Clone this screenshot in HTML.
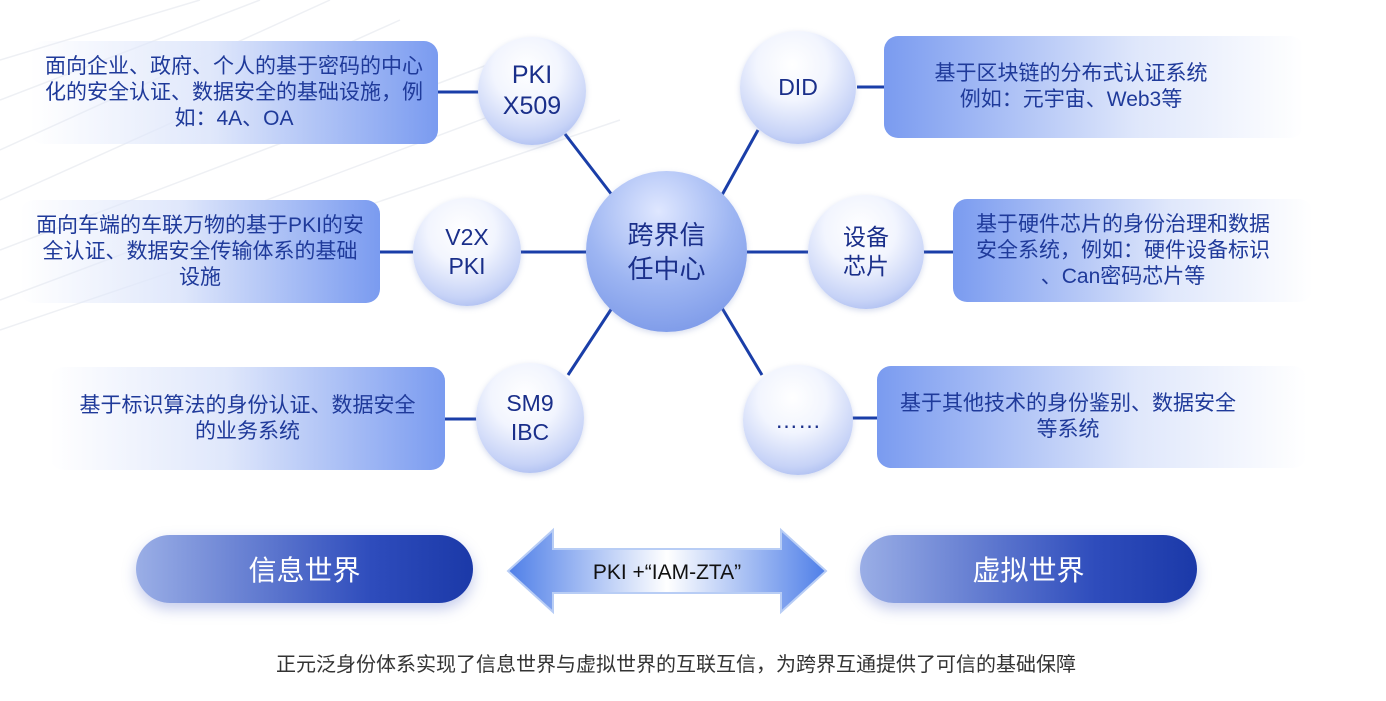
<!DOCTYPE html>
<html><head><meta charset="utf-8"><style>
body{margin:0;width:1386px;height:701px;background:#fff;position:relative;overflow:hidden;font-family:"Liberation Sans","Noto Sans CJK SC",sans-serif}
.box{position:absolute;border-radius:14px;color:#1f3a9a;font-size:21px;line-height:26px;text-align:center;display:flex;align-items:center;justify-content:center;box-sizing:border-box;white-space:nowrap}
.L{background:linear-gradient(to right,rgba(255,255,255,0) 0%,#dfe7fb 45%,#7a9bf0 100%)}
.R{background:linear-gradient(to right,#7a9bf0 0%,#dfe7fb 60%,rgba(255,255,255,0) 100%)}
.c{position:absolute;border-radius:50%;background:radial-gradient(circle at 45% 30%,#fff 0%,#f2f5fe 35%,#c7d3f7 70%,#8aa2e8 100%);color:#1a2f8a;font-size:23px;line-height:29px;text-align:center;display:flex;align-items:center;justify-content:center;box-shadow:0 2px 6px rgba(120,140,200,.3)}
.pill{position:absolute;border-radius:34px;background:linear-gradient(to right,#9aaee6,#2e4cbc 70%,#1b39a8);color:#fff;font-size:28px;display:flex;align-items:center;justify-content:center;box-shadow:0 6px 14px rgba(90,110,200,.35)}
</style></head><body>
<svg style="position:absolute;left:0;top:0" width="1386" height="701">
<g stroke="#eef0f4" stroke-width="1.5" fill="none">
<path d="M0 60 L200 0"/><path d="M0 100 L260 0"/><path d="M0 150 L330 0"/><path d="M0 200 L400 20"/><path d="M0 250 L500 60"/><path d="M0 300 L560 90"/><path d="M0 330 L620 120"/>
</g>
<g stroke="#1a3ea8" stroke-width="3">
<line x1="438" y1="92" x2="482" y2="92"/><line x1="380" y1="252" x2="419" y2="252"/><line x1="445" y1="419" x2="478" y2="419"/>
<line x1="857" y1="87" x2="884" y2="87"/><line x1="922" y1="252" x2="953" y2="252"/><line x1="852" y1="418" x2="877" y2="418"/>
<line x1="515" y1="252" x2="590" y2="252"/><line x1="745" y1="252" x2="810" y2="252"/>
<line x1="565" y1="134" x2="612" y2="195"/><line x1="568" y1="375" x2="612" y2="308"/>
<line x1="758" y1="130" x2="722" y2="195"/><line x1="762" y1="375" x2="722" y2="308"/>
</g>
<defs><linearGradient id="ag" x1="0" x2="1"><stop offset="0" stop-color="#4f7fe8"/><stop offset=".5" stop-color="#fff"/><stop offset="1" stop-color="#4f7fe8"/></linearGradient></defs>
<polygon points="508,571 553,530 553,549 781,549 781,530 826,571 781,612 781,593 553,593 553,612" fill="url(#ag)" stroke="#b8cdf5" stroke-width="2"/>
<text x="667" y="579" text-anchor="middle" font-size="21" fill="#111" font-family="Liberation Sans,sans-serif">PKI +“IAM-ZTA”</text>
</svg>
<div class="box L" style="left:30px;top:41px;width:408px;height:103px">面向企业、政府、个人的基于密码的中心<br>化的安全认证、数据安全的基础设施，例<br>如：4A、OA</div>
<div class="box L" style="left:20px;top:200px;width:360px;height:103px">面向车端的车联万物的基于PKI的安<br>全认证、数据安全传输体系的基础<br>设施</div>
<div class="box L" style="left:50px;top:367px;width:395px;height:103px">基于标识算法的身份认证、数据安全<br>的业务系统</div>
<div class="box R" style="left:884px;top:36px;width:420px;height:102px;padding-right:46px">基于区块链的分布式认证系统<br>例如：元宇宙、Web3等</div>
<div class="box R" style="left:953px;top:199px;width:360px;height:103px;padding-right:20px">基于硬件芯片的身份治理和数据<br>安全系统，例如：硬件设备标识<br>、Can密码芯片等</div>
<div class="box R" style="left:877px;top:366px;width:430px;height:102px;padding-right:48px">基于其他技术的身份鉴别、数据安全<br>等系统</div>
<div class="c" style="left:478px;top:37px;width:108px;height:108px;font-size:25px;line-height:31px">PKI<br>X509</div>
<div class="c" style="left:413px;top:198px;width:108px;height:108px">V2X<br>PKI</div>
<div class="c" style="left:476px;top:363px;width:108px;height:110px">SM9<br>IBC</div>
<div class="c" style="left:586px;top:171px;width:161px;height:161px;background:radial-gradient(circle at 45% 25%,#dfe7ff 0%,#9db5f2 50%,#6f8ee4 100%);font-size:26px;line-height:34px;color:#1a2f8a">跨界信<br>任中心</div>
<div class="c" style="left:740px;top:31px;width:116px;height:113px">DID</div>
<div class="c" style="left:808px;top:195px;width:116px;height:114px">设备<br>芯片</div>
<div class="c" style="left:743px;top:365px;width:110px;height:110px">……</div>
<div class="pill" style="left:136px;top:535px;width:337px;height:68px">信息世界</div>
<div class="pill" style="left:860px;top:535px;width:337px;height:68px">虚拟世界</div>
<div style="position:absolute;left:0;width:1352px;top:648px;text-align:center;font-size:20px;color:#333">正元泛身份体系实现了信息世界与虚拟世界的互联互信，为跨界互通提供了可信的基础保障</div>
</body></html>
